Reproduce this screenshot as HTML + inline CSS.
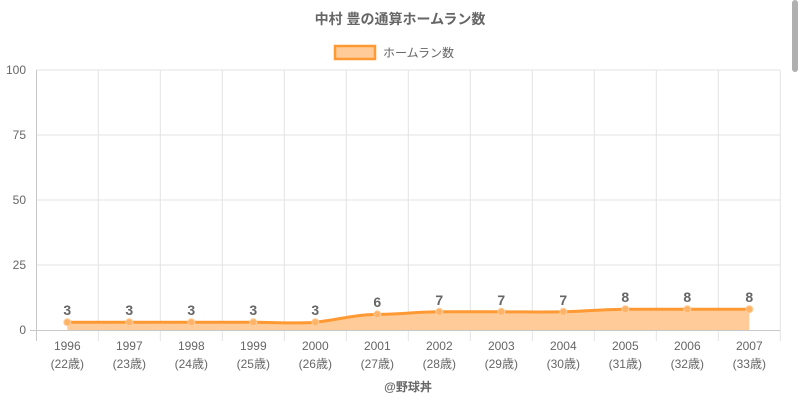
<!DOCTYPE html>
<html><head><meta charset="utf-8"><style>
html,body{margin:0;padding:0;background:#fff;width:800px;height:400px;overflow:hidden}
text{font-family:"Liberation Sans","Noto Sans CJK JP",sans-serif}
</style></head><body>
<svg width="800" height="400" viewBox="0 0 800 400" xmlns="http://www.w3.org/2000/svg">
<rect x="792" y="0" width="6" height="72" rx="3" fill="#b0b0b0"/>
<text x="400" y="24" text-anchor="middle" font-size="14" font-weight="bold" fill="#666">中村 豊の通算ホームラン数</text>
<rect x="335" y="46" width="40" height="13" fill="#ffcc99" stroke="#ff9933" stroke-width="2.5"/>
<text x="383" y="57" font-size="12" fill="#666">ホームラン数</text>
<g stroke="#e3e3e3" stroke-width="1">
<line x1="36" y1="70" x2="780" y2="70"/>
<line x1="36" y1="135" x2="780" y2="135"/>
<line x1="36" y1="200" x2="780" y2="200"/>
<line x1="36" y1="265" x2="780" y2="265"/>
<line x1="98.3" y1="70" x2="98.3" y2="341"/><line x1="160.3" y1="70" x2="160.3" y2="341"/>
<line x1="222.3" y1="70" x2="222.3" y2="341"/><line x1="284.3" y1="70" x2="284.3" y2="341"/>
<line x1="346.3" y1="70" x2="346.3" y2="341"/><line x1="408.3" y1="70" x2="408.3" y2="341"/>
<line x1="470.3" y1="70" x2="470.3" y2="341"/><line x1="532.3" y1="70" x2="532.3" y2="341"/>
<line x1="594.3" y1="70" x2="594.3" y2="341"/><line x1="656.3" y1="70" x2="656.3" y2="341"/>
<line x1="718.3" y1="70" x2="718.3" y2="341"/><line x1="780.3" y1="70" x2="780.3" y2="341"/>
</g>
<line x1="36.5" y1="70" x2="36.5" y2="341" stroke="#c8c8c8"/>
<line x1="30" y1="330.5" x2="780" y2="330.5" stroke="#c8c8c8"/>
<g font-size="12" fill="#666" text-anchor="end">
<text x="26" y="74">100</text><text x="26" y="139">75</text><text x="26" y="204">50</text><text x="26" y="269">25</text><text x="26" y="334">0</text>
</g>
<path d="M67.3,322.2 C88,322.2 108.6,322.2 129.3,322.2 C150,322.2 170.6,322.2 191.3,322.2 C212,322.2 232.6,322.2 253.3,322.2 C274,322.2 294.6,324 315.3,322.2 C336,320 356.6,314.4 377.3,314.4 C398,314.4 418.6,311.8 439.3,311.8 C460,311.8 480.6,311.8 501.3,311.8 C522,311.8 542.6,312.2 563.3,311.8 C584,311.4 604.6,309.2 625.3,309.2 C646,309.2 666.6,309.2 687.3,309.2 C708,309.2 728.6,309.2 749.3,309.2 L749.3,330 L67.3,330 Z" fill="#ffcc99"/>
<path d="M67.3,322.2 C88,322.2 108.6,322.2 129.3,322.2 C150,322.2 170.6,322.2 191.3,322.2 C212,322.2 232.6,322.2 253.3,322.2 C274,322.2 294.6,324 315.3,322.2 C336,320 356.6,314.4 377.3,314.4 C398,314.4 418.6,311.8 439.3,311.8 C460,311.8 480.6,311.8 501.3,311.8 C522,311.8 542.6,312.2 563.3,311.8 C584,311.4 604.6,309.2 625.3,309.2 C646,309.2 666.6,309.2 687.3,309.2 C708,309.2 728.6,309.2 749.3,309.2" fill="none" stroke="#ff9933" stroke-width="3"/>
<g fill="#ffb366" stroke="#ffcc99" stroke-width="1">
<circle cx="67.3" cy="322.2" r="3.5"/><circle cx="129.3" cy="322.2" r="3.5"/><circle cx="191.3" cy="322.2" r="3.5"/>
<circle cx="253.3" cy="322.2" r="3.5"/><circle cx="315.3" cy="322.2" r="3.5"/><circle cx="377.3" cy="314.4" r="3.5"/>
<circle cx="439.3" cy="311.8" r="3.5"/><circle cx="501.3" cy="311.8" r="3.5"/><circle cx="563.3" cy="311.8" r="3.5"/>
<circle cx="625.3" cy="309.2" r="3.5"/><circle cx="687.3" cy="309.2" r="3.5"/><circle cx="749.3" cy="309.2" r="3.5"/>
</g>
<g font-size="14" font-weight="bold" fill="#666" text-anchor="middle">
<text x="67.3" y="315">3</text><text x="129.3" y="315">3</text><text x="191.3" y="315">3</text>
<text x="253.3" y="315">3</text><text x="315.3" y="315">3</text><text x="377.3" y="307">6</text>
<text x="439.3" y="305">7</text><text x="501.3" y="305">7</text><text x="563.3" y="305">7</text>
<text x="625.3" y="302">8</text><text x="687.3" y="302">8</text><text x="749.3" y="302">8</text>
</g>
<g font-size="12" fill="#666" text-anchor="middle">
<text x="67.3" y="350">1996</text><text x="129.3" y="350">1997</text><text x="191.3" y="350">1998</text>
<text x="253.3" y="350">1999</text><text x="315.3" y="350">2000</text><text x="377.3" y="350">2001</text>
<text x="439.3" y="350">2002</text><text x="501.3" y="350">2003</text><text x="563.3" y="350">2004</text>
<text x="625.3" y="350">2005</text><text x="687.3" y="350">2006</text><text x="749.3" y="350">2007</text>
<text x="67.3" y="368">(22歳)</text><text x="129.3" y="368">(23歳)</text><text x="191.3" y="368">(24歳)</text>
<text x="253.3" y="368">(25歳)</text><text x="315.3" y="368">(26歳)</text><text x="377.3" y="368">(27歳)</text>
<text x="439.3" y="368">(28歳)</text><text x="501.3" y="368">(29歳)</text><text x="563.3" y="368">(30歳)</text>
<text x="625.3" y="368">(31歳)</text><text x="687.3" y="368">(32歳)</text><text x="749.3" y="368">(33歳)</text>
</g>
<text x="408" y="391" text-anchor="middle" font-size="12" font-weight="bold" fill="#666">@野球丼</text>
</svg>
</body></html>
